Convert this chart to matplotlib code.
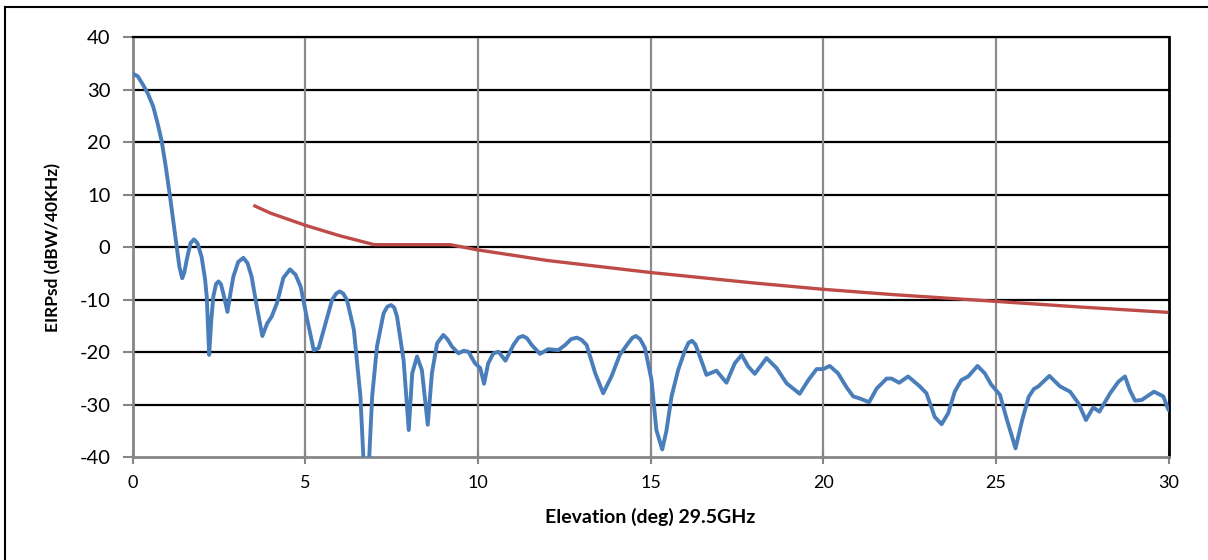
import matplotlib
matplotlib.use("Agg")
import matplotlib.pyplot as plt
from matplotlib.lines import Line2D

plt.rcParams['font.family'] = ['Lato', 'DejaVu Sans']

# Measured EIRP spectral density (blue)
elev = [0, 0.15, 0.31, 0.45, 0.6, 0.72, 0.84, 0.96, 1.08, 1.18, 1.28, 1.36, 1.44, 1.5, 1.57,
        1.68, 1.78, 1.88, 2.0, 2.1, 2.15, 2.22, 2.28, 2.34, 2.42, 2.49, 2.56,
        2.63, 2.75, 2.83, 2.92, 3.06, 3.21, 3.33, 3.45, 3.6, 3.76, 3.9, 4.03, 4.18, 4.37, 4.56,
        4.72, 4.87, 5.06, 5.25, 5.39,
        5.59, 5.78, 5.9, 6.0, 6.1, 6.21, 6.41, 6.6, 6.7, 6.84, 6.94, 7.08, 7.27, 7.38, 7.49, 7.58,
        7.66, 7.85, 8.0, 8.1, 8.24, 8.38, 8.55, 8.67, 8.82, 9.0, 9.12, 9.25, 9.44, 9.59, 9.73,
        9.83, 9.92, 10.07, 10.18, 10.3, 10.45, 10.6, 10.8, 11.03, 11.18, 11.3, 11.42, 11.56, 11.8,
        12.04, 12.33, 12.53, 12.7, 12.86, 13.0, 13.15, 13.4, 13.63, 13.87, 14.11, 14.35, 14.48,
        14.58, 14.7, 14.84, 15.03, 15.17, 15.34, 15.46, 15.61, 15.8, 16.0, 16.1, 16.2, 16.3,
        16.38, 16.62, 16.91, 17.2, 17.44, 17.64, 17.83, 18.02, 18.36, 18.65, 18.94, 19.32,
        19.57, 19.81, 20.0, 20.19, 20.43, 20.68, 20.87, 21.06, 21.33, 21.55, 21.84, 21.98,
        22.2, 22.46, 22.8, 22.99, 23.23, 23.43, 23.62, 23.81, 24.0, 24.2, 24.47, 24.68, 24.87,
        25.12, 25.31, 25.57, 25.76, 25.95, 26.1, 26.23, 26.55, 26.86, 27.15, 27.39, 27.61,
        27.82, 28.0, 28.31, 28.55, 28.74, 28.88, 29.03, 29.22, 29.58, 29.85, 30.0]
eirp = [33.1, 32.6, 30.9, 29.2, 26.8, 23.8, 20.4, 15.5, 10.0, 5.0, 0.1, -3.8, -5.9, -4.8, -2.4,
        0.8, 1.5, 0.8, -1.8, -6.0, -9.4, -20.5, -14.0, -9.4, -7.0, -6.5, -7.0,
        -8.8, -12.3, -9.0, -5.6, -2.8, -2.0, -3.0, -5.6, -11.3, -16.9, -14.5, -13.2, -10.7, -5.8, -4.2,
        -5.2, -7.5, -13.8, -19.6, -19.2,
        -14.5, -10.0, -8.8, -8.4, -8.8, -10.0, -15.7, -28.4, -42.0, -42.0, -28.4, -18.9, -12.6, -11.3, -11.0, -11.5,
        -13.2, -21.5, -34.8, -24.0, -20.8, -23.4, -33.8, -24.0, -18.3, -16.7, -17.5, -18.9, -20.2, -19.7, -19.9,
        -21.1, -22.1, -23.0, -26.0, -22.1, -20.2, -19.9, -21.6, -18.6, -17.2, -16.9, -17.3, -18.6, -20.3,
        -19.4, -19.6, -18.6, -17.5, -17.2, -17.6, -18.6, -24.0, -27.8, -24.6, -20.5, -18.3, -17.2,
        -16.9, -17.5, -19.2, -25.3, -34.8, -38.5, -35.0, -28.4, -23.4, -19.6, -18.2, -17.8, -18.5,
        -19.9, -24.3, -23.5, -25.8, -22.1, -20.5, -22.7, -24.1, -21.1, -23.0, -25.9, -27.9,
        -25.3, -23.2, -23.2, -22.6, -24.0, -26.7, -28.4, -28.8, -29.5, -26.9, -25.0, -25.0,
        -25.8, -24.6, -26.5, -27.8, -32.3, -33.7, -31.6, -27.5, -25.3, -24.6, -22.6, -24.0, -26.2,
        -28.1, -32.6, -38.3, -33.0, -28.5, -27.0, -26.5, -24.5, -26.5, -27.5, -29.7, -32.9,
        -30.5, -31.3, -27.8, -25.6, -24.6, -27.2, -29.2, -29.1, -27.5, -28.4, -31.0]

# Regulatory mask (red)
mask_elev = [3.5, 4.0, 5.0, 6.0, 7.0, 9.2, 10.0, 12.0, 15.0, 18.0, 20.0, 22.0, 25.0, 27.5, 30.0]
mask_eirp = [8.0, 6.5, 4.2, 2.2, 0.5, 0.5, -0.5, -2.5, -4.8, -6.8, -8.0, -9.0, -10.3, -11.4, -12.4]

x_ticks = [0, 5, 10, 15, 20, 25, 30]
y_ticks = [-40, -30, -20, -10, 0, 10, 20, 30, 40]

W, H = 1208, 560
fig = plt.figure(figsize=(W / 100, H / 100), dpi=100)
fig.patch.set_facecolor('white')
ax = fig.add_axes([132.5 / W, (H - 457.3) / H, 1036 / W, 420 / H])

ax.set_xlim(0, 30)
ax.set_ylim(-40, 40)

# grid
for yv in y_ticks[1:]:
    ax.axhline(yv, color='black', lw=1.6, zorder=1)
for xv in x_ticks[1:-1]:
    ax.axvline(xv, color='#8c8c8c', lw=1.6, zorder=1)

ax.plot(elev, eirp, color='#4a7ebb', lw=2.8, solid_joinstyle='round',
        solid_capstyle='round', zorder=3)
ax.plot(mask_elev, mask_eirp, color='#be4b48', lw=2.4, solid_capstyle='butt', zorder=3)

for side in ['left', 'bottom']:
    ax.spines[side].set_color('#868686')
    ax.spines[side].set_linewidth(2.0)
ax.spines['right'].set_color('black')
ax.spines['right'].set_linewidth(2.0)
ax.spines['top'].set_color('black')
ax.spines['top'].set_linewidth(1.6)

ax.set_xticks(x_ticks)
ax.set_yticks(y_ticks)
ax.set_xticklabels([str(v) for v in x_ticks])
ax.set_yticklabels([str(v) for v in y_ticks])
ax.tick_params(axis='y', direction='out', length=7, width=1.5, color='#868686',
               labelsize=14.5, pad=9, labelcolor='black')
ax.tick_params(axis='x', direction='inout', length=10, width=1.5, color='#868686',
               labelsize=13, pad=8, labelcolor='black')

ax.set_xlabel('Elevation (deg) 29.5GHz', fontsize=14, fontweight='bold', labelpad=12)
ax.set_ylabel('EIRPsd (dBW/40KHz)', fontsize=12.5, fontweight='bold', labelpad=13)

# outer chart border (left and top visible)
fig.add_artist(Line2D([5 / W, 5 / W], [0, 1 - 7 / H], transform=fig.transFigure,
                      color='black', lw=1.5))
fig.add_artist(Line2D([5 / W, 1], [1 - 7 / H, 1 - 7 / H], transform=fig.transFigure,
                      color='black', lw=1.5))

fig.savefig('out.png', dpi=100, facecolor='white')
